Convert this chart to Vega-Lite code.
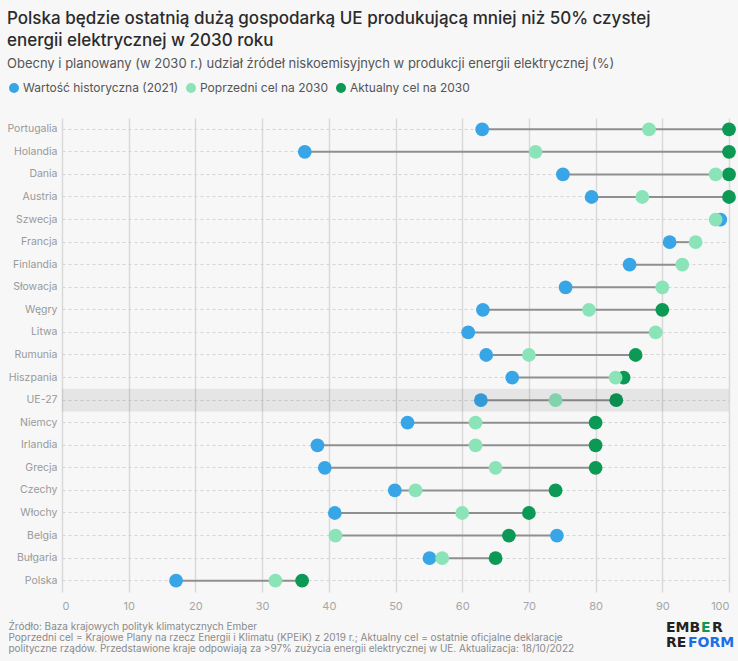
{
  "$schema": "https://vega.github.io/schema/vega-lite/v6.json",
  "width": 667,
  "height": 474,
  "autosize": {"type": "none"},
  "padding": {"left": 62, "top": 118, "right": 9, "bottom": 69},
  "background": "#f7f7f7",
  "title": {
    "text": ["Polska będzie ostatnią dużą gospodarką UE produkującą mniej niż 50% czystej", "energii elektrycznej w 2030 roku"],
    "subtitle": "Obecny i planowany (w 2030 r.) udział źródeł niskoemisyjnych w produkcji energii elektrycznej (%)",
    "anchor": "start",
    "frame": "bounds",
    "font": "Inter",
    "fontSize": 17,
    "fontWeight": 500,
    "color": "#2b2b2b",
    "lineHeight": 22,
    "subtitleFont": "Inter",
    "subtitleFontSize": 13,
    "subtitleColor": "#555555",
    "subtitlePadding": 8,
    "offset": 10
  },
  "config": {
    "view": {"stroke": null},
    "font": "Inter"
  },
  "data": {
    "values": [
      {"country": "Portugalia", "series": "Wartość historyczna (2021)", "value": 63.0},
      {"country": "Holandia", "series": "Wartość historyczna (2021)", "value": 36.4},
      {"country": "Dania", "series": "Wartość historyczna (2021)", "value": 75.1},
      {"country": "Austria", "series": "Wartość historyczna (2021)", "value": 79.4},
      {"country": "Szwecja", "series": "Wartość historyczna (2021)", "value": 98.7},
      {"country": "Francja", "series": "Wartość historyczna (2021)", "value": 91.1},
      {"country": "Finlandia", "series": "Wartość historyczna (2021)", "value": 85.1},
      {"country": "Słowacja", "series": "Wartość historyczna (2021)", "value": 75.5},
      {"country": "Węgry", "series": "Wartość historyczna (2021)", "value": 63.1},
      {"country": "Litwa", "series": "Wartość historyczna (2021)", "value": 60.9},
      {"country": "Rumunia", "series": "Wartość historyczna (2021)", "value": 63.6},
      {"country": "Hiszpania", "series": "Wartość historyczna (2021)", "value": 67.5},
      {"country": "UE-27", "series": "Wartość historyczna (2021)", "value": 62.8},
      {"country": "Niemcy", "series": "Wartość historyczna (2021)", "value": 51.8},
      {"country": "Irlandia", "series": "Wartość historyczna (2021)", "value": 38.3},
      {"country": "Grecja", "series": "Wartość historyczna (2021)", "value": 39.4},
      {"country": "Czechy", "series": "Wartość historyczna (2021)", "value": 49.9},
      {"country": "Włochy", "series": "Wartość historyczna (2021)", "value": 40.9},
      {"country": "Belgia", "series": "Wartość historyczna (2021)", "value": 74.2},
      {"country": "Bułgaria", "series": "Wartość historyczna (2021)", "value": 55.1},
      {"country": "Polska", "series": "Wartość historyczna (2021)", "value": 17.1},
      {"country": "Portugalia", "series": "Aktualny cel na 2030", "value": 100},
      {"country": "Holandia", "series": "Aktualny cel na 2030", "value": 100},
      {"country": "Dania", "series": "Aktualny cel na 2030", "value": 100},
      {"country": "Austria", "series": "Aktualny cel na 2030", "value": 100},
      {"country": "Węgry", "series": "Aktualny cel na 2030", "value": 90},
      {"country": "Rumunia", "series": "Aktualny cel na 2030", "value": 86},
      {"country": "Hiszpania", "series": "Aktualny cel na 2030", "value": 84.2},
      {"country": "UE-27", "series": "Aktualny cel na 2030", "value": 83.1},
      {"country": "Niemcy", "series": "Aktualny cel na 2030", "value": 80},
      {"country": "Irlandia", "series": "Aktualny cel na 2030", "value": 80},
      {"country": "Grecja", "series": "Aktualny cel na 2030", "value": 80},
      {"country": "Czechy", "series": "Aktualny cel na 2030", "value": 74},
      {"country": "Włochy", "series": "Aktualny cel na 2030", "value": 70},
      {"country": "Belgia", "series": "Aktualny cel na 2030", "value": 67},
      {"country": "Bułgaria", "series": "Aktualny cel na 2030", "value": 65},
      {"country": "Polska", "series": "Aktualny cel na 2030", "value": 36},
      {"country": "Portugalia", "series": "Poprzedni cel na 2030", "value": 88},
      {"country": "Holandia", "series": "Poprzedni cel na 2030", "value": 71},
      {"country": "Dania", "series": "Poprzedni cel na 2030", "value": 98},
      {"country": "Austria", "series": "Poprzedni cel na 2030", "value": 87},
      {"country": "Szwecja", "series": "Poprzedni cel na 2030", "value": 98},
      {"country": "Francja", "series": "Poprzedni cel na 2030", "value": 95},
      {"country": "Finlandia", "series": "Poprzedni cel na 2030", "value": 93},
      {"country": "Słowacja", "series": "Poprzedni cel na 2030", "value": 90},
      {"country": "Węgry", "series": "Poprzedni cel na 2030", "value": 79},
      {"country": "Litwa", "series": "Poprzedni cel na 2030", "value": 89},
      {"country": "Rumunia", "series": "Poprzedni cel na 2030", "value": 70},
      {"country": "Hiszpania", "series": "Poprzedni cel na 2030", "value": 83},
      {"country": "UE-27", "series": "Poprzedni cel na 2030", "value": 74},
      {"country": "Niemcy", "series": "Poprzedni cel na 2030", "value": 62},
      {"country": "Irlandia", "series": "Poprzedni cel na 2030", "value": 62},
      {"country": "Grecja", "series": "Poprzedni cel na 2030", "value": 65},
      {"country": "Czechy", "series": "Poprzedni cel na 2030", "value": 53},
      {"country": "Włochy", "series": "Poprzedni cel na 2030", "value": 60},
      {"country": "Belgia", "series": "Poprzedni cel na 2030", "value": 41},
      {"country": "Bułgaria", "series": "Poprzedni cel na 2030", "value": 57},
      {"country": "Polska", "series": "Poprzedni cel na 2030", "value": 32}
    ]
  },
  "encoding": {
    "y": {
      "field": "country",
      "type": "nominal",
      "sort": ["Portugalia", "Holandia", "Dania", "Austria", "Szwecja", "Francja", "Finlandia", "Słowacja", "Węgry", "Litwa", "Rumunia", "Hiszpania", "UE-27", "Niemcy", "Irlandia", "Grecja", "Czechy", "Włochy", "Belgia", "Bułgaria", "Polska"],
      "scale": {"paddingInner": 0, "paddingOuter": 0},
      "axis": {
        "title": null,
        "domain": false,
        "ticks": false,
        "labelFont": "Inter",
        "labelFontSize": 10.5,
        "labelColor": "#999999",
        "labelPadding": 5,
        "grid": true,
        "gridColor": "#d4d4d4",
        "gridDash": [3, 3],
        "gridWidth": 1,
        "bandPosition": 0.5
      }
    }
  },
  "layer": [
    {
      "mark": {"type": "rule", "color": "#8f8f8f", "strokeWidth": 2},
      "encoding": {
        "x": {
          "aggregate": "min",
          "field": "value",
          "type": "quantitative",
          "scale": {"domain": [0, 100], "nice": false},
          "axis": {
            "values": [0, 10, 20, 30, 40, 50, 60, 70, 80, 90, 100],
            "domain": false,
            "ticks": false,
            "grid": true,
            "gridColor": "#d9d9d9",
            "gridWidth": 1.5,
            "labelFont": "Inter",
            "labelFontSize": 11,
            "labelColor": "#a6a6a6",
            "labelPadding": 8,
            "title": ["Źródło: Baza krajowych polityk klimatycznych Ember", "Poprzedni cel = Krajowe Plany na rzecz Energii i Klimatu (KPEiK) z 2019 r.; Aktualny cel = ostatnie oficjalne deklaracje", "polityczne rządów. Przedstawione kraje odpowiają za >97% zużycia energii elektrycznej w UE. Aktualizacja: 18/10/2022"],
            "titleFont": "Inter",
            "titleFontSize": 10,
            "titleFontWeight": "normal",
            "titleColor": "#8a8a8a",
            "titleLineHeight": 11,
            "titleAnchor": "start",
            "titleAlign": "left",
            "titleBaseline": "top",
            "titleX": -54,
            "titleY": 29
          }
        },
        "x2": {"aggregate": "max", "field": "value"}
      }
    },
    {
      "mark": {"type": "point", "filled": true, "shape": "circle", "size": 190, "opacity": 1, "strokeWidth": 0},
      "encoding": {
        "x": {"field": "value", "type": "quantitative"},
        "color": {
          "field": "series",
          "type": "nominal",
          "scale": {
            "domain": ["Wartość historyczna (2021)", "Poprzedni cel na 2030", "Aktualny cel na 2030"],
            "range": ["#38a6e6", "#8ae4b8", "#0c9955"]
          },
          "legend": {
            "title": null,
            "orient": "none",
            "direction": "horizontal",
            "legendX": -54,
            "legendY": -36,
            "symbolType": "circle",
            "symbolSize": 100,
            "symbolOpacity": 1,
            "labelFont": "Inter",
            "labelFontSize": 12,
            "labelColor": "#555555",
            "labelOffset": 3,
            "columnPadding": 6,
            "symbolStrokeWidth": 0
          }
        }
      }
    },
    {
      "transform": [{"filter": "datum.country === 'UE-27' && datum.series === 'Aktualny cel na 2030'"}],
      "mark": {"type": "rect", "color": "#000000", "opacity": 0.07},
      "encoding": {
        "x": {"datum": 0, "type": "quantitative"},
        "x2": {"datum": 100}
      }
    },
    {
      "transform": [{"filter": "datum.country === 'Polska' && datum.series === 'Aktualny cel na 2030'"}],
      "mark": {"type": "text", "align": "left", "baseline": "top", "font": "DejaVu Sans", "fontSize": 14, "fontWeight": "bold", "color": "#222222", "dx": -63, "dy": 40},
      "encoding": {
        "x": {"datum": 100, "type": "quantitative"},
        "text": {"value": "EMB"}
      }
    },
    {
      "transform": [{"filter": "datum.country === 'Polska' && datum.series === 'Aktualny cel na 2030'"}],
      "mark": {"type": "text", "align": "left", "baseline": "top", "font": "DejaVu Sans", "fontSize": 14, "fontWeight": "bold", "color": "#0c9955", "dx": -28, "dy": 40},
      "encoding": {
        "x": {"datum": 100, "type": "quantitative"},
        "text": {"value": "E"}
      }
    },
    {
      "transform": [{"filter": "datum.country === 'Polska' && datum.series === 'Aktualny cel na 2030'"}],
      "mark": {"type": "text", "align": "left", "baseline": "top", "font": "DejaVu Sans", "fontSize": 14, "fontWeight": "bold", "color": "#222222", "dx": -17, "dy": 40},
      "encoding": {
        "x": {"datum": 100, "type": "quantitative"},
        "text": {"value": "R"}
      }
    },
    {
      "transform": [{"filter": "datum.country === 'Polska' && datum.series === 'Aktualny cel na 2030'"}],
      "mark": {"type": "text", "align": "left", "baseline": "top", "font": "DejaVu Sans", "fontSize": 14, "fontWeight": "bold", "color": "#222222", "dx": -63, "dy": 55},
      "encoding": {
        "x": {"datum": 100, "type": "quantitative"},
        "text": {"value": "RE"}
      }
    },
    {
      "transform": [{"filter": "datum.country === 'Polska' && datum.series === 'Aktualny cel na 2030'"}],
      "mark": {"type": "text", "align": "left", "baseline": "top", "font": "DejaVu Sans", "fontSize": 14, "fontWeight": "bold", "color": "#1a6fe8", "dx": -41, "dy": 55},
      "encoding": {
        "x": {"datum": 100, "type": "quantitative"},
        "text": {"value": "FORM"}
      }
    }
  ]
}
